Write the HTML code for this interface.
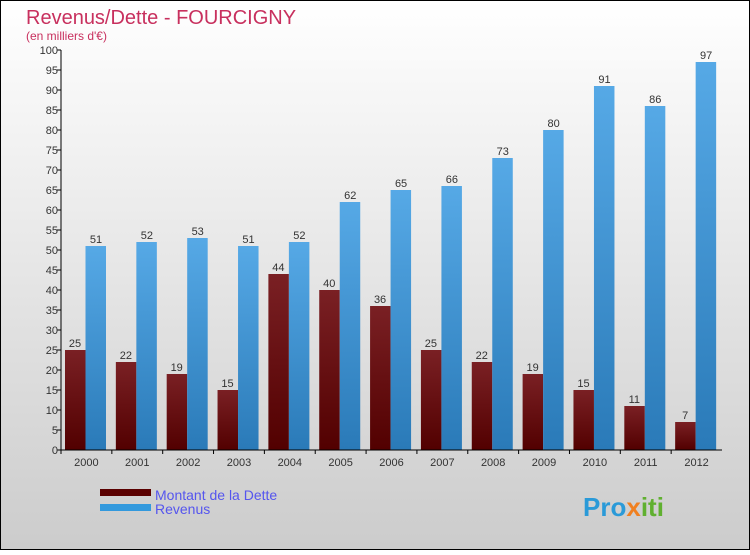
<!DOCTYPE html>
<html><head><meta charset="utf-8"><style>
html,body{margin:0;padding:0}
body{width:750px;height:550px;overflow:hidden;font-family:"Liberation Sans",sans-serif}
</style></head><body>
<svg id="chart" width="750" height="550" xmlns="http://www.w3.org/2000/svg">
<defs>
<linearGradient id="bg" x1="0" y1="0" x2="0" y2="1"><stop offset="0" stop-color="#ffffff"/><stop offset="1" stop-color="#cccccc"/></linearGradient>
<linearGradient id="gd" x1="0" y1="0" x2="0" y2="1"><stop offset="0" stop-color="#7a2024"/><stop offset="1" stop-color="#520000"/></linearGradient>
<linearGradient id="gr" x1="0" y1="0" x2="0" y2="1"><stop offset="0" stop-color="#56a9e6"/><stop offset="1" stop-color="#2a7ab8"/></linearGradient>
</defs>
<rect x="0.5" y="0.5" width="749" height="549" fill="url(#bg)" stroke="#000"/>
<text x="26" y="24" font-size="20" fill="#c8305e">Revenus/Dette - FOURCIGNY</text>
<text x="26" y="40" font-size="12" fill="#c8305e">(en milliers d'€)</text>
<g id="plot"></g>
<g>
<rect x="100" y="489" width="51" height="7" fill="#5a0000"/>
<text x="155" y="500" font-size="14" fill="#5555ee">Montant de la Dette</text>
<rect x="100" y="504" width="51" height="7" fill="#3399dd"/>
<text x="155" y="514" font-size="14" fill="#5555ee">Revenus</text>
</g>
<text x="583" y="516" font-size="26" font-weight="bold" fill="#2a9ad8">Pro<tspan fill="#f08020">x</tspan><tspan fill="#60b030">iti</tspan></text>
</svg>
<script>
const years=["2000","2001","2002","2003","2004","2005","2006","2007","2008","2009","2010","2011","2012"];
const dette=[25,22,19,15,44,40,36,25,22,19,15,11,7];
const revenus=[51,52,53,51,52,62,65,66,73,80,91,86,97];
const yTicks=[0,5,10,15,20,25,30,35,40,45,50,55,60,65,70,75,80,85,90,95,100];
const NS="http://www.w3.org/2000/svg";
const g=document.getElementById('plot');
const x0=61,x1=722,y0=450,y1=50;
const slot=(x1-x0)/years.length;
const y=v=>y0-(v/100)*(y0-y1);
function mk(t,a,txt){const e=document.createElementNS(NS,t);for(const k in a)e.setAttribute(k,a[k]);if(txt!==undefined)e.textContent=txt;g.appendChild(e);return e;}
years.forEach((yr,i)=>{
  const sx=x0+i*slot;
  let r=mk('rect',{x:sx+4,y:y(dette[i]),width:20.5,height:y0-y(dette[i]),fill:'url(#gd)'});
  
  
  let r2=mk('rect',{x:sx+24.5,y:y(revenus[i]),width:20.5,height:y0-y(revenus[i]),fill:'url(#gr)'});
  
  
  let l1=mk('text',{x:sx+14,y:y(dette[i])-3,'font-size':11,fill:'#333','text-anchor':'middle'},dette[i]);
  
  
  let l2=mk('text',{x:sx+35,y:y(revenus[i])-3,'font-size':11,fill:'#333','text-anchor':'middle'},revenus[i]);
  
  
  let xl=mk('text',{x:sx+slot/2,y:466,'font-size':11,fill:'#333','text-anchor':'middle'},yr);
  
  
  mk('line',{x1:sx,y1:y0,x2:sx,y2:y0+4,stroke:'#000'});
});
yTicks.forEach(v=>{
  mk('line',{x1:x0-4,y1:y(v),x2:x0,y2:y(v),stroke:'#000'});
  let t=mk('text',{x:x0-3,y:y(v)+4,'font-size':11,fill:'#333','text-anchor':'end'},v);
  
  
});
let ax=mk('line',{x1:x0,y1:y1,x2:x0,y2:y0,stroke:'#000'});


let bx=mk('line',{x1:x0,y1:y0,x2:x1,y2:y0,stroke:'#000'});


</script>
</body></html>
